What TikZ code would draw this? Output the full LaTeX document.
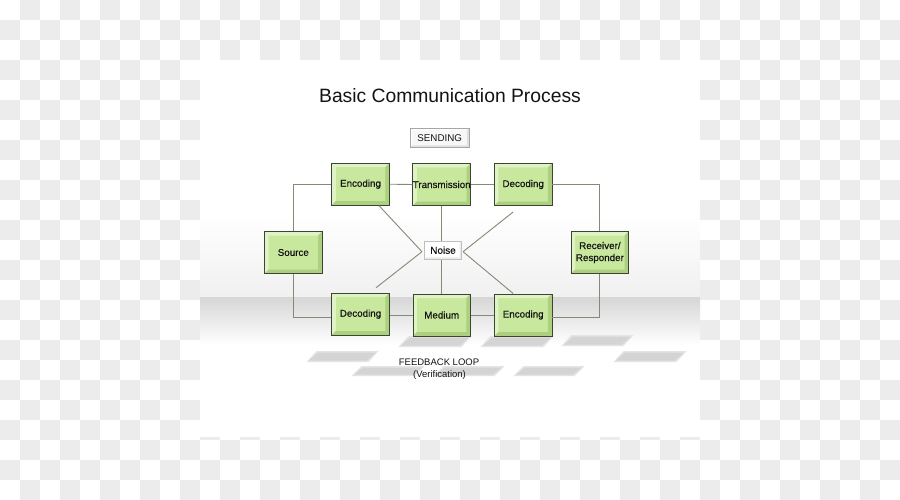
\documentclass[tikz,border=0pt]{standalone}
\usepackage{fontspec}
\setmainfont{Liberation Sans}
\newfontfamily\boxfont{Liberation Sans}[FakeBold=0.5]
\definecolor{checkgray}{RGB}{236,236,236}
\definecolor{linecol}{RGB}{128,140,118}
\definecolor{boxborder}{RGB}{58,70,48}
\definecolor{boxfill}{RGB}{200,232,158}
\definecolor{bevlight}{RGB}{224,243,198}
\definecolor{bevdark}{RGB}{172,207,128}
\definecolor{txt}{RGB}{20,20,20}
\definecolor{shadowgray}{RGB}{212,212,212}
\definecolor{shadowsoft}{RGB}{228,228,228}
\newcommand\bevelpp[3]{%
 \fill[#2] (path picture bounding box.north west) -- (path picture bounding box.north east) -- ([shift={(-#1,-#1)}]path picture bounding box.north east) -- ([shift={(#1,-#1)}]path picture bounding box.north west) -- cycle;
 \fill[#2] (path picture bounding box.north west) -- (path picture bounding box.south west) -- ([shift={(#1,#1)}]path picture bounding box.south west) -- ([shift={(#1,-#1)}]path picture bounding box.north west) -- cycle;
 \fill[#3] (path picture bounding box.south west) -- (path picture bounding box.south east) -- ([shift={(-#1,#1)}]path picture bounding box.south east) -- ([shift={(#1,#1)}]path picture bounding box.south west) -- cycle;
 \fill[#3] (path picture bounding box.north east) -- (path picture bounding box.south east) -- ([shift={(-#1,#1)}]path picture bounding box.south east) -- ([shift={(-#1,-#1)}]path picture bounding box.north east) -- cycle;
}
\begin{document}
\begin{tikzpicture}[x=1pt,y=-1pt,
  gbox/.style={draw=boxborder, line width=0.9pt, fill=boxfill,
    minimum width=57.5pt, minimum height=42pt, inner sep=0pt, text=txt,
    font=\boxfont\fontsize{9.8}{12}\selectfont, align=center,
    path picture={\bevelpp{4pt}{bevlight}{bevdark}}},
  wbox/.style={draw=black!25, line width=0.7pt, fill=white, inner sep=0pt, text=txt,
    font=\boxfont\fontsize{10}{12}\selectfont,
    path picture={\bevelpp{2pt}{white}{black!8}}},
  conn/.style={draw=linecol, line width=0.9pt},
  lbl/.style={text=txt, inner sep=0pt, font=\fontsize{9.5}{12}\selectfont}]
\useasboundingbox (0,0) rectangle (900,500);
% checkerboard background
\fill[white] (0,0) rectangle (900,500);
\foreach \j in {0,2,...,24}{\foreach \i in {1,3,...,43}{\fill[checkgray] (\i*20,\j*20) rectangle ++(20,20);}}
\foreach \j in {1,3,...,23}{\foreach \i in {0,2,...,44}{\fill[checkgray] (\i*20,\j*20) rectangle ++(20,20);}}
% panel
\fill[white] (200,60) rectangle (700,437);
\shade[top color=white, bottom color={rgb,255:red,240;green,240;blue,240}] (200,215) rectangle (700,297);
\shade[top color={rgb,255:red,214;green,214;blue,214}, middle color={rgb,255:red,230;green,230;blue,230}, bottom color=white] (200,297) rectangle (700,345);
% reflections
\foreach \a/\b/\yt/\yb in {400/470/337/346, 482/552/337/346, 563/632/336/345, 308/377/352/361, 615/685/352/361, 353/423/367/375, 435/503/367/375, 515/583/367/375}{
  \fill[shadowsoft] (\a-1.5,\yb+1) -- (\a+8.5,\yt-1) -- (\b+1.5,\yt-1) -- (\b-8.5,\yb+1) -- cycle;
  \fill[shadowgray] (\a+1,\yb-0.5) -- (\a+10,\yt+0.5) -- (\b-1,\yt+0.5) -- (\b-10,\yb-0.5) -- cycle;}
% title
\node[text=txt, inner sep=0pt, font=\fontsize{19.3}{22}\selectfont] (title) at (450,96) {Basic Communication Process};
\node[draw=black!35, line width=0.7pt, fill=black!3, inner sep=0pt, minimum width=58.5pt, minimum height=19pt, text=txt,
  font=\fontsize{9.8}{12}\selectfont, path picture={\bevelpp{2pt}{white}{black!12}}] (sending) at (439.7,137.8) {SENDING};
% boxes
\node[gbox] (encT) at (360.5,184.2) {Encoding};
\node[gbox] (trans) at (441.7,184.5) {Transmission};
\node[gbox] (decT) at (523.2,184.5) {Decoding};
\node[gbox] (source) at (293.3,252.5) {Source};
\node[gbox] (recv) at (599.9,252.5) {Receiver/\\Responder};
\node[gbox] (decB) at (360.5,314.2) {Decoding};
\node[gbox] (medium) at (441.7,315) {Medium};
\node[gbox] (encB) at (523.2,315) {Encoding};
\node[wbox, minimum width=37.4pt, minimum height=18.3pt] (noise) at (443,250.2) {Noise};
% connectors
\draw[conn] (source.north) |- (encT.west);
\draw[conn] (source.south) |- ([yshift=-3.5pt]decB.west);
\draw[conn] (encT.east) -- (trans.west);
\draw[conn] (trans.east) -- (decT.west);
\draw[conn] (decT.east) -| (recv.north);
\draw[conn] (recv.south) |- ([yshift=-2pt]encB.east);
\draw[conn] (decB.east |- medium.west) -- (medium.west);
\draw[conn] (medium.east) -- (encB.west);
\draw[conn] (trans.south) -- (trans.south |- noise.north);
\draw[conn] (medium.north |- noise.south) -- (medium.north);
\coordinate (nl) at ([xshift=-2pt,yshift=-1.5pt]noise.west);
\coordinate (nr) at ([xshift=1pt,yshift=-1.5pt]noise.east);
\draw[conn] ([xshift=18.5pt]encT.south) -- (nl);
\draw[conn] ([xshift=15.5pt,yshift=5pt]decB.north) -- (nl);
\draw[conn] ([xshift=-10pt,yshift=-6pt]decT.south) -- (nr);
\draw[conn] ([xshift=-10pt]encB.north) -- (nr);
% feedback
\node[lbl] (fb1) at (439,362) {FEEDBACK LOOP};
\node[lbl] (fb2) at (439.5,375) {(Verification)};
\end{tikzpicture}
\end{document}
